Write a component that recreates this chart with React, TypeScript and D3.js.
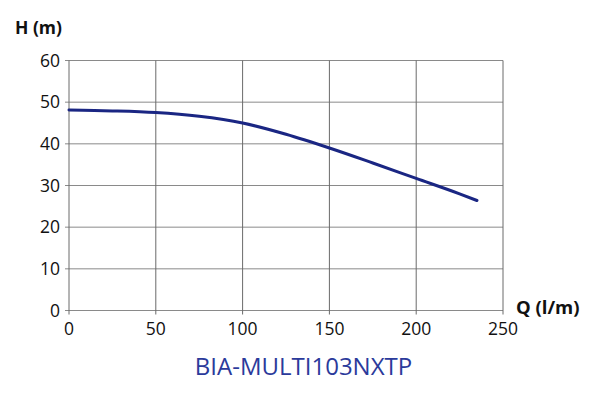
import React from "react";
import * as d3 from "d3";

const flowQ = [0, 25, 50, 75, 100, 125, 150, 175, 200, 225, 235];
const headH = [48.1, 47.9, 47.5, 46.6, 45.0, 42.3, 39.0, 35.4, 31.7, 28.0, 26.4];
const xTicks = [0, 50, 100, 150, 200, 250];
const yTicks = [0, 10, 20, 30, 40, 50, 60];
const title = "BIA-MULTI103NXTP";

export default function App() {
  const W = 600, H = 394;
  const x = d3.scaleLinear().domain([0, 250]).range([69, 503]);
  const y = d3.scaleLinear().domain([0, 60]).range([310.5, 60.5]);
  const line = d3.line<number>()
    .x((_, i) => x(flowQ[i]))
    .y((d) => y(d))
    .curve(d3.curveMonotoneX);
  const font = "'Open Sans', 'DejaVu Sans', sans-serif";
  return (
    <svg width={W} height={H} style={{ position: "absolute", left: 0, top: 0 }} fontFamily={font}>
      <rect width={W} height={H} fill="#fff" />
      {yTicks.map((t) => (
        <g key={"y" + t}>
          <line x1={x(0) - 4} x2={x(250)} y1={y(t)} y2={y(t)} stroke="#8a8a8a" strokeWidth={1} />
          <text x={60} y={y(t)} dy="0.36em" textAnchor="end" fontSize={17.5} fill="#111">{t}</text>
        </g>
      ))}
      {xTicks.map((t) => (
        <g key={"x" + t}>
          <line x1={x(t)} x2={x(t)} y1={y(60)} y2={y(0) + 4} stroke="#6a6a6a" strokeWidth={1} />
          <text x={x(t)} y={335} textAnchor="middle" fontSize={17.5} fill="#111">{t}</text>
        </g>
      ))}
      <path d={line(headH) || ""} fill="none" stroke="#1a2683" strokeWidth={3} strokeLinecap="round" />
      <text x={15} y={34} fontSize={17.5} fontWeight="bold" fill="#111">H (m)</text>
      <text x={516} y={314} fontSize={18.5} fontWeight="bold" fill="#111">Q (l/m)</text>
      <text x={303.5} y={375} textAnchor="middle" fontSize={24} fill="#2b3a9b">{title}</text>
    </svg>
  );
}
